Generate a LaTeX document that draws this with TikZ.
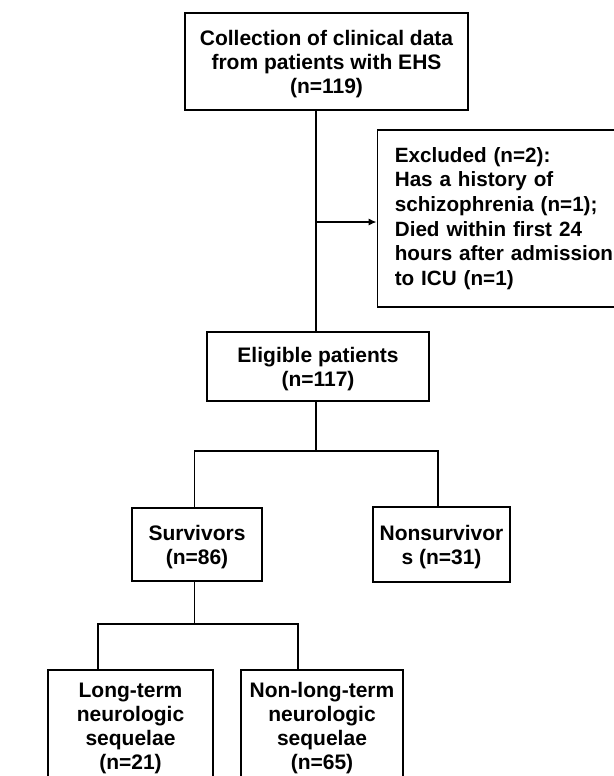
\documentclass[tikz,border=0pt]{standalone}
\usepackage{fontspec}
\setmainfont{Liberation Sans}
\usetikzlibrary{arrows.meta}
\begin{document}
\begin{tikzpicture}[x=0.75pt,y=-0.75pt,
  box/.style={draw, line width=1.4pt, align=center, inner sep=0pt,
    font=\fontsize{15.75}{18}\selectfont\bfseries, text depth=-2.7pt},
  tallbox/.style={box, text depth=0.3pt},
  exbox/.style={draw, line width=1.4pt, align=left, inner ysep=0pt,
    font=\fontsize{15.5}{18.5}\selectfont\bfseries},
  link/.style={line width=1.4pt},
  arr/.style={line width=1.4pt, -{Latex[length=6pt,width=5.5pt]}}]
\useasboundingbox (0,0) rectangle (614,776);
\clip (0,0) rectangle (614,776);
\fill[white] (0,0) rectangle (614,776);
\node[box, minimum width=212.25pt, minimum height=72.75pt] (top) at (326.5,61.5)
  {Collection of clinical data\\from patients with EHS\\(n=119)};
\node[exbox, text width=172pt, inner xsep=13pt, minimum height=132.75pt] (excl) at (509.5,218.5)
  {Excluded (n=2):\\Has a history of\\schizophrenia (n=1);\\Died within first 24\\hours after admission\\to ICU (n=1)};
\node[box, minimum width=166.5pt, minimum height=51.75pt, text depth=-3.5pt] (elig) at (318,366.5)
  {Eligible patients\\(n=117)};
\node[box, minimum width=97.5pt, minimum height=54.75pt] (surv) at (197,544.5)
  {Survivors\\(n=86)};
\node[box, minimum width=102.75pt, minimum height=56.25pt] (nons) at (441.5,544.5)
  {Nonsurvivor\\s (n=31)};
\node[tallbox, minimum width=123.75pt, minimum height=84pt] (long) at (130.5,726)
  {Long-term\\neurologic\\sequelae\\(n=21)};
\node[tallbox, minimum width=121.5pt, minimum height=84pt] (nonl) at (322,726)
  {Non-long-term\\neurologic\\sequelae\\(n=65)};
\coordinate (ax) at (316,222);
\coordinate (b1) at (316,451);
\coordinate (b1l) at (194.5,451);
\coordinate (b1r) at (438,451);
\coordinate (b2) at (194.5,624);
\coordinate (b2l) at (98,624);
\coordinate (b2r) at (298,624);
\draw[link] (top.south -| ax) -- (elig.north -| ax);
\draw[arr] (ax) -- (excl.west |- ax);
\draw[link] (elig.south -| b1) -- (b1);
\draw[link] (surv.north -| b1l) -- (b1l) -- (b1r) -- (nons.north -| b1r);
\draw[link] (surv.south -| b2) -- (b2);
\draw[link] (long.north -| b2l) -- (b2l) -- (b2r) -- (nonl.north -| b2r);
\end{tikzpicture}
\end{document}
